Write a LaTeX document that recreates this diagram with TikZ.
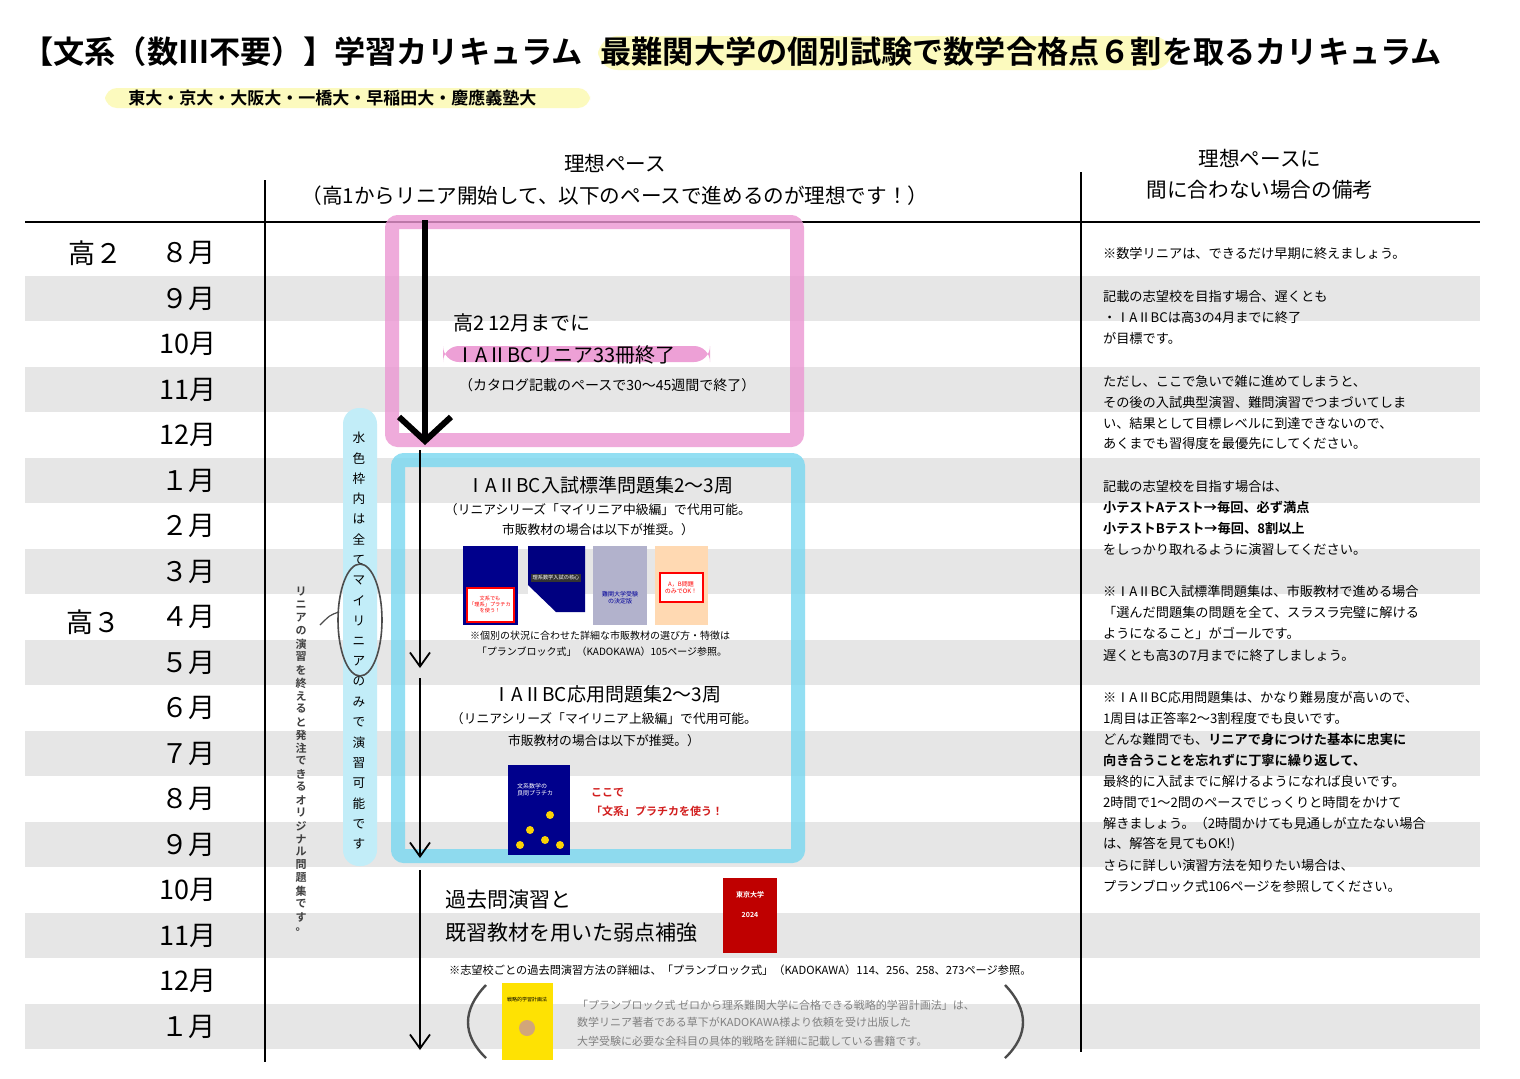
\documentclass[tikz,border=0pt]{standalone}
\usepackage{fontspec}
\setmainfont{Noto Sans CJK JP}
\newfontfamily\jpb{Noto Sans CJK JP}[BoldFont={Noto Sans CJK JP Bold}]
\usetikzlibrary{arrows.meta}
\definecolor{pinkc}{RGB}{236,150,210}
\definecolor{bluec}{RGB}{120,215,240}
\definecolor{stripe}{RGB}{230,230,230}
\definecolor{hl}{RGB}{252,250,190}
\definecolor{redt}{RGB}{210,30,30}
\tikzset{
 mon/.style={font=\fontsize{13.5}{14}\selectfont},
 rn/.style={anchor=west,font=\fontsize{6.6}{7}\selectfont},
 rnb/.style={anchor=west,font=\fontsize{6.6}{7}\selectfont\bfseries},
 sm/.style={font=\fontsize{6.4}{7}\selectfont},
 tiny/.style={font=\fontsize{5}{6}\selectfont},
 arr/.style={-{Straight Barb[length=7pt,width=10pt]},line width=0.9pt}
}
\begin{document}
\begin{tikzpicture}[x=0.5pt,y=-0.5pt]
\useasboundingbox (0,0) rectangle (1520,1078);
\fill[white] (0,0) rectangle (1520,1078);
% stripes
\foreach \k in {1,3,...,17}{\fill[stripe] (25,{253+45.5*\k-22.5}) rectangle (1480,{253+45.5*\k+22.5});}
% title
\fill[hl,rounded corners=10pt] (598,36) rectangle (1172,70);
\node[anchor=west,font=\fontsize{15.6}{16}\selectfont\bfseries\jpb,inner sep=0] (title) at (22,52) {【文系（数Ⅲ不要）】学習カリキュラム};
\node[anchor=west,font=\fontsize{15.6}{16}\selectfont\bfseries\jpb,inner sep=0] (title2) at (600,52) {最難関大学の個別試験で数学合格点６割を取るカリキュラム};
\fill[hl,rounded corners=6pt] (105,88) rectangle (590,108);
\node[anchor=west,font=\fontsize{8.5}{9}\selectfont\bfseries\jpb,inner sep=0] (sub) at (128,98) {東大・京大・大阪大・一橋大・早稲田大・慶應義塾大};
% headers
\node[font=\fontsize{10.3}{11}\selectfont] (h1) at (615,163) {理想ペース};
\node[font=\fontsize{10.3}{11}\selectfont] (h2) at (615,196) {（高1からリニア開始して、以下のペースで進めるのが理想です！）};
\node[font=\fontsize{10.3}{11}\selectfont] (h3) at (1260,158) {理想ペースに};
\node[font=\fontsize{10.3}{11}\selectfont] (h4) at (1260,190) {間に合わない場合の備考};
\draw[line width=0.8pt] (25,222) -- (1480,222);
\draw[line width=0.8pt] (265,180) -- (265,1062);
\draw[line width=0.8pt] (1081,172) -- (1081,1052);
% months
\foreach \m [count=\i from 0] in {８月,９月,10月,11月,12月,１月,２月,３月,４月,５月,６月,７月,８月,９月,10月,11月,12月,１月}{
 \node[mon] (m\i) at (188,{253+45.5*\i}) {\m};}
\node[mon] (k2) at (95,253) {高２};
\node[mon] (k3) at (93,622) {高３};
% pink box
\draw[pinkc,opacity=0.8,line width=7pt,rounded corners=3pt] (392,222) rectangle (797,440);
\fill[pinkc,opacity=0.9,rounded corners=8pt] (443,346) rectangle (710,362);
\node[anchor=west,font=\fontsize{10}{11}\selectfont] (p1) at (446,323) {高2 12月までに};
\node[anchor=west,font=\fontsize{10}{11}\selectfont] (p2) at (448,355) {ⅠAⅡBCリニア33冊終了};
\node[anchor=west,font=\fontsize{7}{8}\selectfont] (p3) at (452,385) {（カタログ記載のペースで30〜45週間で終了）};
\draw[line width=3pt,-{Straight Barb[length=12pt,width=26pt,line width=3pt]}] (425,220) -- (425,445);
% blue box
\draw[bluec,opacity=0.8,line width=7pt,rounded corners=3pt] (398,460) rectangle (798,856);
\node[font=\fontsize{9.5}{10}\selectfont] (b1) at (600,485) {ⅠAⅡBC入試標準問題集2〜3周};
\node[sm] (b2) at (598,510) {（リニアシリーズ「マイリニア中級編」で代用可能。};
\node[sm] (b3) at (598,530) {市販教材の場合は以下が推奨。）};
\fill[blue!55!black] (463,546) rectangle (518,625);
\fill[white] (467,588) rectangle (514,622); \draw[red,line width=0.6pt] (467,588) rectangle (514,622);
\node[font=\fontsize{2.6}{3}\selectfont,text=red,align=center] (bk1) at (490,605) {文系でも\\「理系」プラチカ\\を使う！};
\fill[white] (528,546) rectangle (585,625);
\fill[blue!50!black] (528,546) -- (585,546) -- (585,612) -- (556,612) -- (528,585) -- cycle;
\node[font=\fontsize{2.6}{3}\selectfont,text=white,fill=black!80,inner sep=1pt] (bk2) at (556,578) {理系数学入試の核心};
\fill[blue!20!gray!50] (593,546) rectangle (647,625);
\node[font=\fontsize{3}{3.5}\selectfont,text=blue!60!black,align=center] (bk3) at (620,598) {難関大学受験\\の決定版};
\fill[orange!30] (655,546) rectangle (708,625);
\fill[white] (660,573) rectangle (703,602); \draw[red,line width=0.6pt] (660,573) rectangle (703,602);
\node[font=\fontsize{3}{3.5}\selectfont,text=red,align=center] (bk4) at (681,588) {A，B問題\\のみでOK！};
\node[tiny] (b4) at (600,636) {※個別の状況に合わせた詳細な市販教材の選び方・特徴は};
\node[tiny] (b5) at (602,652) {「プランブロック式」（KADOKAWA）105ページ参照。};
\node[font=\fontsize{9.5}{10}\selectfont] (c1) at (607,694) {ⅠAⅡBC応用問題集2〜3周};
\node[sm] (c2) at (604,719) {（リニアシリーズ「マイリニア上級編」で代用可能。};
\node[sm] (c3) at (604,741) {市販教材の場合は以下が推奨。）};
\fill[blue!55!black] (508,765) rectangle (570,855);
\foreach \p in {(530,830),(550,815),(560,845),(520,845),(545,840)}{\fill[yellow!70!orange] \p circle (4);}
\node[font=\fontsize{3}{3.5}\selectfont,text=white,align=left] (bk5) at (535,790) {文系数学の\\良問プラチカ};
\node[anchor=west,font=\fontsize{5.5}{6}\selectfont\bfseries\jpb,text=redt] (r1) at (584,793) {ここで};
\node[anchor=west,font=\fontsize{5.5}{6}\selectfont\bfseries\jpb,text=redt] (r2) at (584,811) {「文系」プラチカを使う！};
\coordinate (a1) at (420,450); \coordinate (a2) at (420,668);
\coordinate (a3) at (420,678); \coordinate (a4) at (420,858);
\coordinate (a5) at (420,870); \coordinate (a6) at (420,1050);
\draw[arr] (a1) -- (a2); \draw[arr] (a3) -- (a4); \draw[arr] (a5) -- (a6);
% pill
\fill[bluec!45,rounded corners=8pt] (343,408) rectangle (377,866);
\foreach \c [count=\i from 0] in {水,色,枠,内,は,全,て,マ,イ,リ,ニ,ア,の,み,で,演,習,可,能,で,す}{
 \node[font=\fontsize{6.3}{7}\selectfont,inner sep=0] (v\i) at (359,{438+20.3*\i}) {\c};}
\draw[gray!60!black,line width=0.8pt] (360,620) ellipse (22 and 56);
\draw[gray!60!black,line width=0.6pt] (339,612) .. controls (330,615) .. (320,625);
\foreach \c [count=\i from 0] in {リ,ニ,ア,の,演,習,を,終,え,る,と,発,注,で,き,る,オ,リ,ジ,ナ,ル,問,題,集,で,す,。}{
 \node[font=\fontsize{5.5}{6}\selectfont\bfseries\jpb,text=black!75,inner sep=0] (w\i) at (301,{592+13*\i}) {\c};}
% lower
\node[anchor=west,font=\fontsize{10.5}{11}\selectfont] (l1) at (438,900) {過去問演習と};
\node[anchor=west,font=\fontsize{10.5}{11}\selectfont] (l2) at (438,933) {既習教材を用いた弱点補強};
\fill[red!75!black] (723,878) rectangle (777,953);
\node[font=\fontsize{3.5}{4}\selectfont\bfseries\jpb,text=white,align=center] (bk6) at (750,905) {東京大学\\[6pt]2024};
\node[anchor=west,font=\fontsize{5.6}{6}\selectfont] (l3) at (442,970) {※志望校ごとの過去問演習方法の詳細は、「プランブロック式」（KADOKAWA）114、256、258、273ページ参照。};
\draw[gray!60!black,line width=1.2pt] (486,985) .. controls (462,1010) and (462,1035) .. (486,1058);
\draw[gray!60!black,line width=1.2pt] (1005,985) .. controls (1029,1010) and (1029,1035) .. (1005,1058);
\fill[yellow!85!orange] (502,983) rectangle (553,1060);
\node[font=\fontsize{2.5}{3}\selectfont,align=center] (bk7) at (527,1000) {戦略的学習計画法};
\fill[brown!70] (527,1028) circle (8);
\node[anchor=west,font=\fontsize{5.5}{6}\selectfont,text=gray] (g1) at (570,1005) {「プランブロック式 ゼロから理系難関大学に合格できる戦略的学習計画法」は、};
\node[anchor=west,font=\fontsize{5.5}{6}\selectfont,text=gray] (g2) at (570,1022) {数学リニア著者である草下がKADOKAWA様より依頼を受け出版した};
\node[anchor=west,font=\fontsize{5.5}{6}\selectfont,text=gray] (g3) at (570,1041) {大学受験に必要な全科目の具体的戦略を詳細に記載している書籍です。};
% right notes
\foreach \y/\t in {253/※数学リニアは、できるだけ早期に終えましょう。,296/記載の志望校を目指す場合、遅くとも,317/・ⅠAⅡBCは高3の4月までに終了,338/が目標です。,381/ただし、ここで急いで雑に進めてしまうと、,402/その後の入試典型演習、難問演習でつまづいてしま,423/い、結果として目標レベルに到達できないので、,444/あくまでも習得度を最優先にしてください。,486/記載の志望校を目指す場合は、,549/をしっかり取れるように演習してください。,591/※ⅠAⅡBC入試標準問題集は、市販教材で進める場合,612/「選んだ問題集の問題を全て、スラスラ完璧に解ける,633/ようになること」がゴールです。,655/遅くとも高3の7月までに終了しましょう。,697/※ⅠAⅡBC応用問題集は、かなり難易度が高いので、,718/1周目は正答率2〜3割程度でも良いです。,781/最終的に入試までに解けるようになれば良いです。,802/2時間で1〜2問のペースでじっくりと時間をかけて,823/解きましょう。（2時間かけても見通しが立たない場合,844/は、解答を見てもOK!),865/さらに詳しい演習方法を知りたい場合は、,886/プランブロック式106ページを参照してください。}{
 \node[rn] (n\y) at (1096,\y) {\t};}
\node[rnb] (n507) at (1096,507) {\jpb\bfseries 小テストAテスト→毎回、必ず満点};
\node[rnb] (n528) at (1096,528) {\jpb\bfseries 小テストBテスト→毎回、8割以上};
\node[rn] (n739) at (1096,739) {どんな難問でも、{\jpb\bfseries リニアで身につけた基本に忠実に}};
\node[rnb] (n760) at (1096,760) {\jpb\bfseries 向き合うことを忘れずに丁寧に繰り返して、};
\end{tikzpicture}
\end{document}
